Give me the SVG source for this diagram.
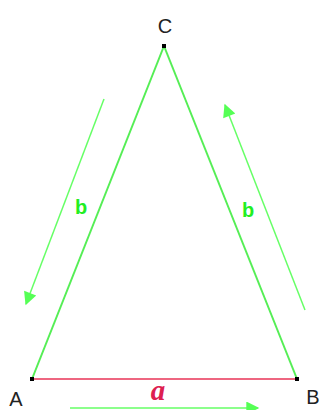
<svg xmlns="http://www.w3.org/2000/svg" width="323" height="410" viewBox="0 0 323 410">
<style>
.side{stroke:#55ee55;stroke-width:2;fill:none}
.base{stroke:#ee6680;stroke-width:2;fill:none}
.arr{stroke:#66ff66;stroke-width:1.5;fill:none}
.pt{fill:#000}
.lbl{font-family:"Liberation Sans",Arial,sans-serif;font-size:20px;fill:#222;text-anchor:middle}
.b{font-family:"Liberation Sans",Arial,sans-serif;font-size:20px;font-weight:bold;fill:#22ee22;text-anchor:middle}
.a{font-family:"Liberation Serif","Times New Roman",serif;font-size:29px;font-weight:bold;font-style:italic;fill:#dd2050;text-anchor:middle}
</style>
<defs>
<marker id="ahL" viewBox="0 0 10 10" refX="9" refY="5" markerWidth="20" markerHeight="13" markerUnits="userSpaceOnUse" orient="auto">
<path d="M0,0 L10,5 L0,10 Z" fill="#55ff55"/>
</marker>
</defs>
<g id="connectors">
<line class="side" x1="164" y1="46" x2="32" y2="379"/>
<line class="side" x1="164" y1="46" x2="297" y2="379"/>
<line class="base" x1="32" y1="379" x2="297" y2="379"/>
<line class="arr" x1="104" y1="99" x2="26" y2="304" marker-end="url(#ahL)"/>
<line class="arr" x1="305" y1="310" x2="225" y2="105" marker-end="url(#ahL)"/>
<line class="arr" x1="70" y1="408" x2="258" y2="408" marker-end="url(#ahL)"/>
</g>
<g id="C"><rect class="pt" x="162" y="44" width="4" height="4"/><text class="lbl" x="165" y="33">C</text></g>
<g id="A"><rect class="pt" x="30" y="377" width="4" height="4"/><text class="lbl" x="16" y="406">A</text></g>
<g id="B"><rect class="pt" x="295" y="377" width="4" height="4"/><text class="lbl" x="313" y="404">B</text></g>
<g id="labels">
<text class="b" x="81" y="214">b</text>
<text class="b" x="248" y="217">b</text>
<text class="a" x="158" y="400">a</text>
</g>
</svg>
